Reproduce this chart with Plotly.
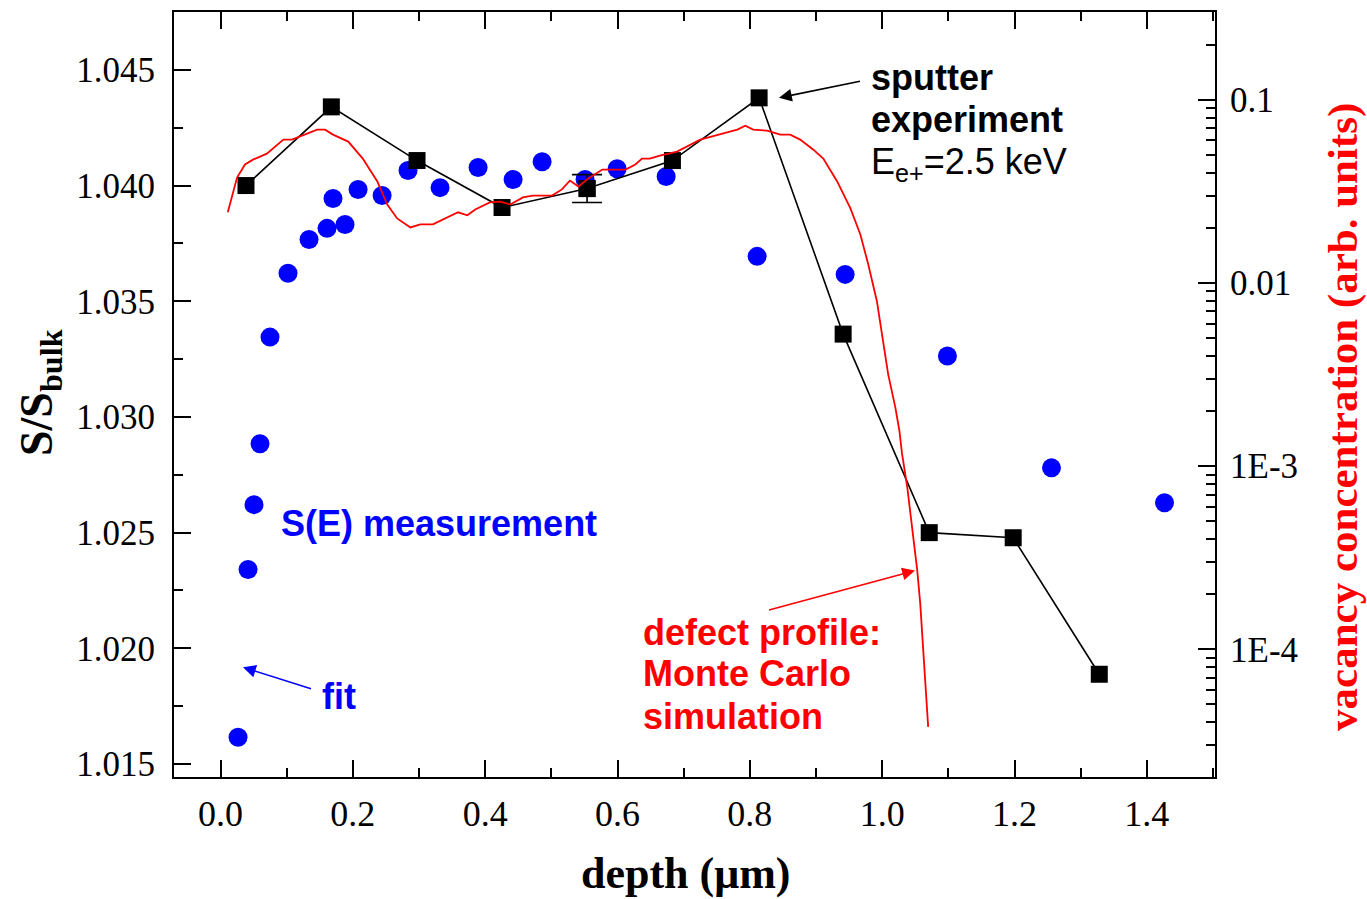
import plotly.graph_objects as go

# ---------------- data ----------------
# S(E) measurement (blue circles)
se_depth = [0.0265, 0.0416, 0.0506, 0.0597, 0.0748, 0.102, 0.1338, 0.161, 0.170, 0.1882,
            0.2079, 0.2442, 0.2834, 0.3318, 0.3893, 0.4422, 0.4860, 0.551, 0.5994, 0.6735,
            0.811, 0.944, 1.0986, 1.2559, 1.4267]
se_s = [1.01616, 1.02341, 1.02621, 1.02884, 1.03345, 1.03621, 1.03767, 1.03815, 1.03944, 1.03832,
        1.03983, 1.03957, 1.04065, 1.03991, 1.04078, 1.04026, 1.04103, 1.04026, 1.04073, 1.04039,
        1.03694, 1.03616, 1.03263, 1.02780, 1.02629]

# sputter experiment (black squares)
sp_depth = [0.0385, 0.1675, 0.297, 0.4255, 0.554, 0.683, 0.814, 0.941, 1.0711, 1.198, 1.3281]
sp_s = [1.0400, 1.0434, 1.04108, 1.03905, 1.03987, 1.04108, 1.04379, 1.03358, 1.0250, 1.02478, 1.01888]
err_depth = [0.554]
err_s = [1.03987]
err_val = [0.0006]

# defect profile: Monte Carlo simulation (red line, right log axis)
mc_depth = [0.011, 0.025, 0.037, 0.049, 0.070, 0.095, 0.108, 0.128, 0.146, 0.158,
            0.170, 0.193, 0.215, 0.237, 0.252, 0.267, 0.287, 0.302, 0.321, 0.359,
            0.373, 0.385, 0.407, 0.423, 0.438, 0.457, 0.472, 0.501, 0.516, 0.528,
            0.541, 0.556, 0.577, 0.612, 0.627, 0.637, 0.649, 0.664, 0.690, 0.725,
            0.751, 0.781, 0.793, 0.805, 0.826, 0.846, 0.861, 0.876, 0.896, 0.911,
            0.932, 0.952, 0.967, 0.979, 0.992, 1.000, 1.009, 1.020, 1.026, 1.030,
            1.038, 1.047, 1.053, 1.0575, 1.062, 1.0695]
mc_conc = [0.0243, 0.0376, 0.0443, 0.0471, 0.0508, 0.0606, 0.0606, 0.0645, 0.0687, 0.0687,
           0.0645, 0.0591, 0.0477, 0.0358, 0.0268, 0.0225, 0.0201, 0.0209, 0.0209, 0.0243,
           0.0234, 0.0252, 0.0275, 0.0278, 0.0268, 0.0293, 0.0300, 0.0300, 0.0324, 0.0362,
           0.0336, 0.0372, 0.0416, 0.0416, 0.0443, 0.0477, 0.0477, 0.0496, 0.0521, 0.0606,
           0.0645, 0.0687, 0.0722, 0.0687, 0.0678, 0.0645, 0.0645, 0.0606, 0.0534, 0.0477,
           0.0358, 0.0255, 0.0184, 0.0126, 0.00795, 0.00526, 0.00318, 0.00208, 0.00156, 0.00117,
           0.000763, 0.000408, 0.000270, 0.000178, 0.0000952, 0.0000377]

x_ticks = [0.0, 0.2, 0.4, 0.6, 0.8, 1.0, 1.2, 1.4]
y_ticks = [1.015, 1.020, 1.025, 1.030, 1.035, 1.040, 1.045]
y2_tickvals = [0.1, 0.01, 0.001, 0.0001]
y2_ticktext = ["0.1", "0.01", "1E-3", "1E-4"]

# ---------------- layout geometry ----------------
W, H = 1367, 899
L, R, T, B = 174, 1215, 10, 777
PW, PH = R - L, B - T


def px(xp):
    return (xp - L) / PW


def py(yp):
    return (B - yp) / PH


SERIF = "Liberation Serif"
SANS = "Liberation Sans"

fig = go.Figure()

fig.add_trace(go.Scatter(
    x=se_depth, y=se_s, mode="markers",
    marker=dict(symbol="circle", size=19, color="#0000ff", line=dict(width=0)),
    showlegend=False))

fig.add_trace(go.Scatter(
    x=sp_depth, y=sp_s, mode="lines+markers",
    line=dict(color="black", width=1.6),
    marker=dict(symbol="square", size=17, color="black", line=dict(width=0)),
    showlegend=False))

fig.add_trace(go.Scatter(
    x=err_depth, y=err_s, mode="markers",
    marker=dict(symbol="square", size=17, color="black", line=dict(width=0)),
    error_y=dict(type="data", array=err_val, visible=True, color="black",
                 thickness=1.6, width=15),
    showlegend=False))

fig.add_trace(go.Scatter(
    x=mc_depth, y=mc_conc, mode="lines", yaxis="y2",
    line=dict(color="#ff0000", width=1.8),
    showlegend=False))

minor_log = [m * 10.0 ** e for e in range(-6, 1) for m in range(2, 10)]

fig.update_layout(
    width=W, height=H,
    margin=dict(l=L, r=W - R, t=T, b=H - B),
    paper_bgcolor="white", plot_bgcolor="white",
    font=dict(family=SERIF, color="black"),
    xaxis=dict(
        range=[-0.0703, 1.503], tickvals=x_ticks, tickformat=".1f",
        showline=True, linecolor="black", linewidth=2, mirror="ticks",
        ticks="inside", ticklen=17, tickwidth=2, tickcolor="black",
        minor=dict(dtick=0.1, tick0=0, ticks="inside", ticklen=9, tickwidth=2, tickcolor="black"),
        showgrid=False, zeroline=False,
        tickfont=dict(family=SERIF, size=36, color="black"),
        ticklabelstandoff=4,
    ),
    yaxis=dict(
        range=[1.01444, 1.0475], tickvals=y_ticks, tickformat=".3f",
        showline=True, linecolor="black", linewidth=2, mirror=False,
        ticks="inside", ticklen=17, tickwidth=2, tickcolor="black",
        minor=dict(dtick=0.0025, tick0=1.015, ticks="inside", ticklen=9, tickwidth=2, tickcolor="black"),
        showgrid=False, zeroline=False,
        tickfont=dict(family=SERIF, size=35, color="black"),
        ticklabelstandoff=10,
    ),
    yaxis2=dict(
        type="log", range=[-4.697, -0.521], overlaying="y", side="right",
        tickvals=y2_tickvals, ticktext=y2_ticktext,
        showline=True, linecolor="black", linewidth=2,
        ticks="inside", ticklen=17, tickwidth=2, tickcolor="black",
        minor=dict(tickmode="array", tickvals=minor_log, ticks="inside", ticklen=9,
                   tickwidth=2, tickcolor="black"),
        showgrid=False, zeroline=False,
        tickfont=dict(family=SERIF, size=35, color="black"),
        ticklabelstandoff=6,
    ),
)

ann = []
# axis titles
ann.append(dict(x=px(686), y=py(874), xref="paper", yref="paper", showarrow=False,
                text="<b>depth (μm)</b>", font=dict(family=SERIF, size=44, color="black"),
                xanchor="center", yanchor="middle"))
ann.append(dict(x=px(40), y=py(392), xref="paper", yref="paper", showarrow=False,
                text="<b>S/S<sub>bulk</sub></b>", textangle=-90,
                font=dict(family=SERIF, size=46, color="black"),
                xanchor="center", yanchor="middle"))
ann.append(dict(x=px(1343), y=py(416), xref="paper", yref="paper", showarrow=False,
                text="<b>vacancy concentration (arb. units)</b>", textangle=-90,
                font=dict(family=SERIF, size=43, color="#ff0000"),
                xanchor="center", yanchor="middle"))

# text labels
def label(text, xl, yc, color, bold=True, size=36):
    t = f"<b>{text}</b>" if bold else text
    ann.append(dict(x=px(xl), y=py(yc), xref="paper", yref="paper", showarrow=False,
                    text=t, font=dict(family=SANS, size=size, color=color),
                    xanchor="left", yanchor="middle"))

label("sputter", 869, 76, "black")
label("experiment", 869, 118, "black")
label("E<sub>e+</sub>=2.5 keV", 869, 162, "black", bold=False)
label("S(E) measurement", 279, 523, "#0000ff")
label("fit", 320, 696, "#0000ff")
label("defect profile:", 641, 632, "#ff0000")
label("Monte Carlo", 641, 673, "#ff0000")
label("simulation", 641, 716, "#ff0000")

# arrows (tip, tail in pixels)
def arrow(tip, tail, color):
    ann.append(dict(x=px(tip[0]), y=py(tip[1]), xref="paper", yref="paper",
                    ax=tail[0] - tip[0], ay=tail[1] - tip[1], axref="pixel", ayref="pixel",
                    text=" ", showarrow=True, arrowhead=2, arrowsize=1.6, arrowwidth=1.6,
                    arrowcolor=color, font=dict(size=2)))

arrow((779, 96), (862, 79), "black")
arrow((243, 667), (313, 689), "#0000ff")
arrow((915, 570), (767, 610), "#ff0000")

fig.update_layout(annotations=ann)

fig.write_html("out.html")
